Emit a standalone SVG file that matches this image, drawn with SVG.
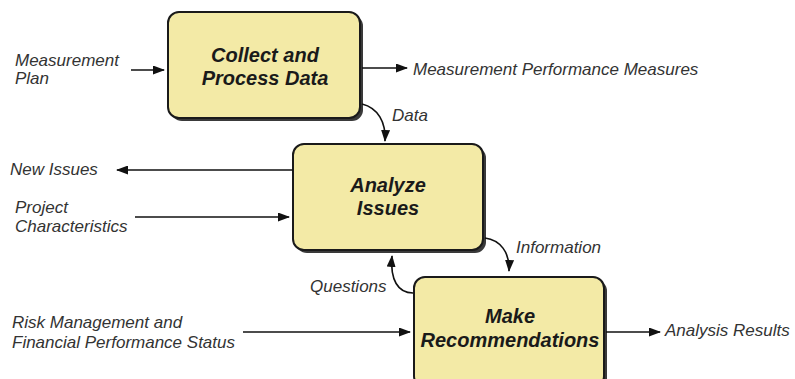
<svg xmlns="http://www.w3.org/2000/svg" width="795" height="379" viewBox="0 0 795 379">
<defs>
<marker id="ah" markerWidth="12" markerHeight="9" refX="11" refY="4.5" orient="auto" markerUnits="userSpaceOnUse">
<path d="M0,0 L12,4.5 L0,9 Z" fill="#111"/>
</marker>
<style>
.box{fill:#f3eaa6;stroke:#1a1a1a;stroke-width:2}
.shadow{fill:#3a3a3a}
.title{font-family:"Liberation Sans",Arial,sans-serif;font-weight:bold;font-style:italic;font-size:20px;fill:#1a1a1a;text-anchor:middle}
.lbl{font-family:"Liberation Sans",Arial,sans-serif;font-style:italic;font-size:17px;fill:#333}
.con{fill:none;stroke:#111;stroke-width:1.6;marker-end:url(#ah)}
</style>
</defs>
<rect width="795" height="379" fill="#fff"/>
<g id="collect">
<rect class="shadow" x="171" y="15" width="192" height="106" rx="11"/>
<rect class="box" x="168" y="12" width="192" height="106" rx="11"/>
<text class="title" x="265" y="62">Collect and</text>
<text class="title" x="265" y="85">Process Data</text>
</g>
<g id="analyze">
<rect class="shadow" x="296" y="147" width="190" height="106" rx="11"/>
<rect class="box" x="293" y="144" width="190" height="106" rx="11"/>
<text class="title" x="388" y="192">Analyze</text>
<text class="title" x="388" y="215">Issues</text>
</g>
<g id="recommend">
<rect class="shadow" x="417" y="280" width="190" height="110" rx="11"/>
<rect class="box" x="414" y="277" width="190" height="110" rx="11"/>
<text class="title" x="510" y="323">Make</text>
<text class="title" x="510" y="347">Recommendations</text>
</g>
<g id="labels">
<text class="lbl" x="15" y="66">Measurement</text>
<text class="lbl" x="15" y="84">Plan</text>
<text class="lbl" x="413" y="75">Measurement Performance Measures</text>
<text class="lbl" x="392" y="121">Data</text>
<text class="lbl" x="10" y="175">New Issues</text>
<text class="lbl" x="15" y="213">Project</text>
<text class="lbl" x="15" y="232">Characteristics</text>
<text class="lbl" x="516" y="253">Information</text>
<text class="lbl" x="310" y="292">Questions</text>
<text class="lbl" x="12" y="328">Risk Management and</text>
<text class="lbl" x="12" y="348">Financial Performance Status</text>
<text class="lbl" x="665" y="336">Analysis Results</text>
</g>
<g id="connectors">
<path class="con" d="M131,70 L164,70"/>
<path class="con" d="M362,68 L407,68"/>
<path class="con" d="M362,104 C378,108 386,122 385,141"/>
<path class="con" d="M293,170 L117,170"/>
<path class="con" d="M135,217 L289,217"/>
<path class="con" d="M485,238 C500,240 510,252 509,271"/>
<path class="con" d="M413,293 C398,293 390,280 392,256"/>
<path class="con" d="M243,332 L410,332"/>
<path class="con" d="M606,332 L660,332"/>
</g>
</svg>
